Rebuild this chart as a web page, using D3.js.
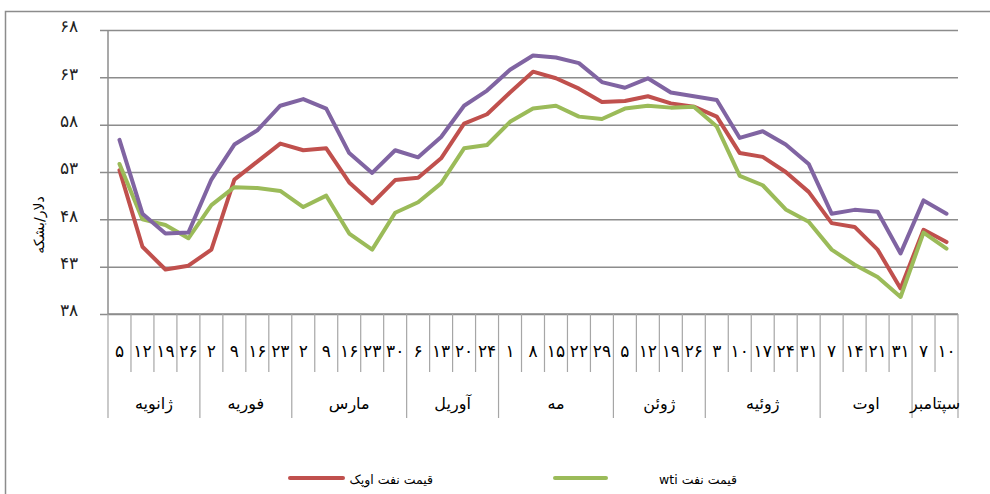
<!DOCTYPE html>
<html>
<head>
<meta charset="utf-8">
<script src="https://cdn.jsdelivr.net/npm/d3@7"></script>
<style>
  body { margin: 0; background: #fff; }
  svg { display: block; font-family: "DejaVu Sans", sans-serif; }
</style>
</head>
<body>
<div id="chart"></div>
<script>
// weekly dates, grouped by month
var months = ['ژانویه', 'فوریه', 'مارس', 'آوریل', 'مه', 'ژوئن', 'ژوئیه', 'اوت', 'سپتامبر'];
var monthDays = [
  [5, 12, 19, 26],
  [2, 9, 16, 23],
  [2, 9, 16, 23, 30],
  [6, 13, 20, 24],
  [1, 8, 15, 22, 29],
  [5, 12, 19, 26],
  [3, 10, 17, 24, 31],
  [7, 14, 21, 31],
  [7, 10]
];

// prices in dollars per barrel
var opecPrice = [53.2, 45.1, 42.7, 43.1, 44.8, 52.2, 54.1, 56.0, 55.3, 55.5,
  51.9, 49.7, 52.15, 52.4, 54.45, 58.1, 59.1, 61.4, 63.6, 62.9,
  61.8, 60.4, 60.5, 61.0, 60.25, 59.9, 58.85, 55.0, 54.6, 53.0,
  50.9, 47.6, 47.2, 44.8, 40.7, 46.9, 45.6];
var wtiPrice = [53.85, 48.0, 47.4, 46.0, 49.5, 51.4, 51.3, 51.0, 49.3, 50.5,
  46.5, 44.8, 48.7, 49.8, 51.8, 55.5, 55.85, 58.3, 59.7, 60.0,
  58.85, 58.6, 59.7, 60.0, 59.8, 59.9, 57.8, 52.6, 51.6, 49.05,
  47.75, 44.8, 43.2, 41.9, 39.8, 46.6, 44.9];
var brentPrice = [56.4, 48.6, 46.5, 46.6, 52.2, 55.9, 57.4, 60.0, 60.7, 59.7,
  55.0, 52.9, 55.3, 54.55, 56.7, 60.0, 61.6, 63.8, 65.3, 65.1,
  64.5, 62.5, 61.9, 62.9, 61.4, 61.0, 60.6, 56.6, 57.3, 55.9,
  53.85, 48.6, 49.0, 48.8, 44.4, 50.0, 48.6];
var yTicks = [38, 43, 48, 53, 58, 63, 68];

var yTitle = 'دلار/بشکه';
var opecLabel = 'قیمت نفت اوپک';
var wtiLabel = 'قیمت نفت wti';

var W = 990, H = 494;
var plotLeft = 108, plotRight = 958, plotTop = 30, plotBottom = 314;

function fa(n) {
  return String(n).replace(/\d/g, function(d) { return '۰۱۲۳۴۵۶۷۸۹'[d]; });
}

var days = [];
monthDays.forEach(function(list) { list.forEach(function(d) { days.push(d); }); });

var svg = d3.select('#chart').append('svg').attr('width', W).attr('height', H);

// outer frame
svg.append('path').attr('d', 'M5.5,' + H + 'V11.5H' + W)
   .attr('fill', 'none').attr('stroke', '#8c8c8c').attr('stroke-width', 1.5);

var x = d3.scaleBand().domain(d3.range(days.length)).range([plotLeft, plotRight]);
var y = d3.scaleLinear().domain([38, 68]).range([plotBottom, plotTop]);

// gridlines + y axis
var yAxis = svg.append('g').attr('transform', 'translate(' + plotLeft + ',0)')
   .call(d3.axisLeft(y).tickValues(yTicks).tickSize(-(plotRight - plotLeft)).tickPadding(30).tickFormat(fa));
yAxis.select('.domain').remove();
yAxis.selectAll('.tick line').attr('stroke', '#8c8c8c').attr('stroke-width', 1.5).attr('x1', -8);
yAxis.selectAll('.tick text').attr('font-size', 17).attr('fill', '#222').attr('dy', '0.1em');
svg.append('line').attr('x1', plotLeft).attr('x2', plotLeft).attr('y1', plotTop).attr('y2', plotBottom)
   .attr('stroke', '#8c8c8c').attr('stroke-width', 1.5);

svg.append('text').attr('transform', 'translate(44,225) rotate(-90)')
   .attr('text-anchor', 'middle').attr('font-size', 14).text(yTitle);

// category axis
var xAxis = svg.append('g').attr('transform', 'translate(0,' + plotBottom + ')');
xAxis.append('line').attr('x1', plotLeft).attr('x2', plotRight).attr('stroke', '#8c8c8c').attr('stroke-width', 1.5);

var bw = x.bandwidth();
var idx = 0;
var monthEdges = [0];
monthDays.forEach(function(list) { idx += list.length; monthEdges.push(idx); });

xAxis.selectAll('line.cat').data(d3.range(days.length + 1)).enter().append('line')
   .attr('class', 'cat')
   .attr('x1', function(i) { return plotLeft + i * bw; })
   .attr('x2', function(i) { return plotLeft + i * bw; })
   .attr('y1', 0)
   .attr('y2', function(i) { return monthEdges.indexOf(i) >= 0 ? 104 : 58; })
   .attr('stroke', '#a6a6a6').attr('stroke-width', 1.2);

xAxis.selectAll('text.day').data(days).enter().append('text')
   .attr('class', 'day')
   .attr('x', function(d, i) { return x(i) + bw / 2; })
   .attr('y', 43)
   .attr('text-anchor', 'middle').attr('font-size', 17)
   .text(fa);

xAxis.selectAll('text.month').data(months).enter().append('text')
   .attr('class', 'month')
   .attr('x', function(d, i) { return plotLeft + (monthEdges[i] + monthEdges[i + 1]) / 2 * bw; })
   .attr('y', 95)
   .attr('text-anchor', 'middle').attr('font-size', 16)
   .text(function(d) { return d; });

// lines
var line = d3.line()
   .x(function(d, i) { return x(i) + bw / 2; })
   .y(function(d) { return y(d); });

var series = [
  {values: opecPrice, color: '#c0504d'},
  {values: wtiPrice, color: '#9bbb59'},
  {values: brentPrice, color: '#8064a2'}
];
svg.selectAll('path.series').data(series).enter().append('path')
   .attr('class', 'series')
   .attr('d', function(s) { return line(s.values); })
   .attr('fill', 'none')
   .attr('stroke', function(s) { return s.color; })
   .attr('stroke-width', 4)
   .attr('stroke-linejoin', 'round')
   .attr('stroke-linecap', 'round');

// legend
var legend = [
  {label: opecLabel, color: '#c0504d', x0: 290, x1: 343, tx: 433},
  {label: wtiLabel, color: '#9bbb59', x0: 555, x1: 606, tx: 737}
];
var lg = svg.selectAll('g.legend').data(legend).enter().append('g').attr('class', 'legend');
lg.append('line')
   .attr('x1', function(d) { return d.x0; }).attr('x2', function(d) { return d.x1; })
   .attr('y1', 478).attr('y2', 478)
   .attr('stroke', function(d) { return d.color; })
   .attr('stroke-width', 4).attr('stroke-linecap', 'round');
lg.append('text')
   .attr('x', function(d) { return d.tx; }).attr('y', 484)
   .attr('direction', 'rtl').attr('text-anchor', 'start')
   .attr('font-size', 12.5)
   .text(function(d) { return d.label; });
</script>
</body>
</html>
